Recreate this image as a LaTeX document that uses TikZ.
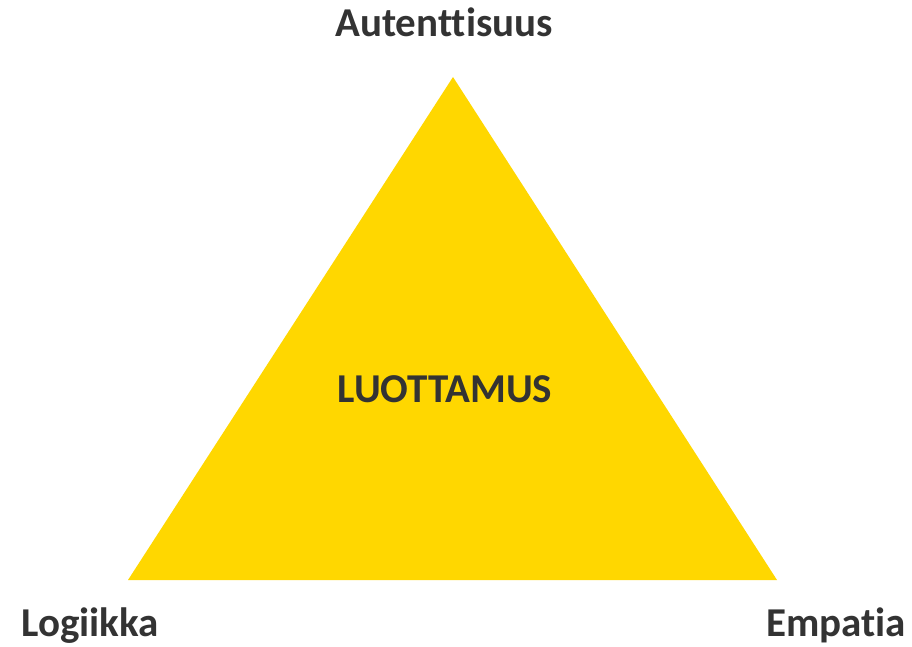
\documentclass[tikz,border=0pt]{standalone}
\usepackage{fontspec}
\setmainfont{Carlito}[Ligatures=NoCommon]
\definecolor{tri}{HTML}{FFD700}
\definecolor{txt}{HTML}{333333}
\begin{document}
\begin{tikzpicture}[x=1pt,y=-1pt,
  lbl/.style={text=txt,font=\fontsize{41}{48}\selectfont\bfseries,inner sep=0pt,anchor=base}]
\useasboundingbox (0,0) rectangle (912,647);
\coordinate (top) at (453,77);
\coordinate (bl) at (128,580);
\coordinate (br) at (777,580);
\fill[tri] (top) -- (bl) -- (br) -- cycle;
\node[lbl] (aut) at (444,37) {Autenttisuus};
\node[lbl] (luo) at (445,402) {LUOTTAMUS};
\node[lbl] (log) at (90,636) {Logiikka};
\node[lbl] (emp) at (836,636) {Empatia};
\end{tikzpicture}
\end{document}
